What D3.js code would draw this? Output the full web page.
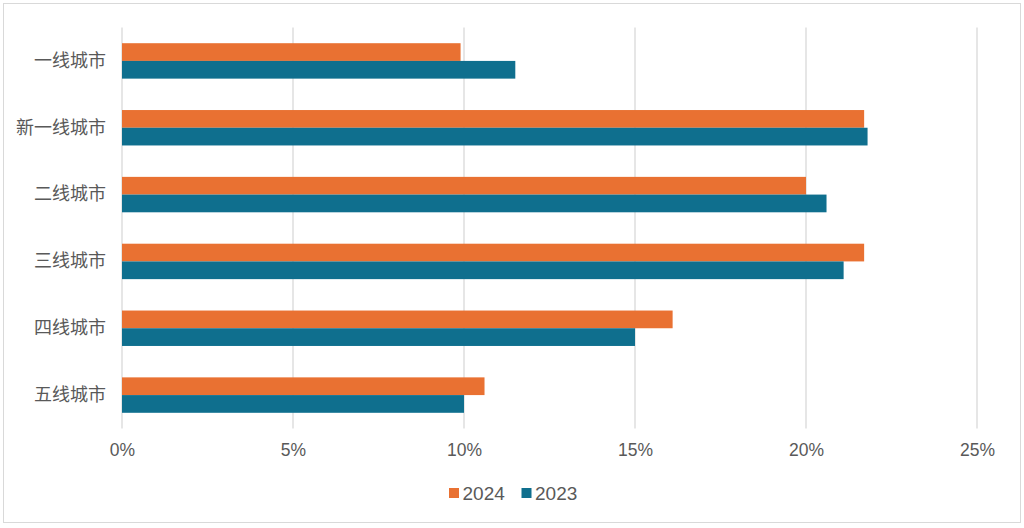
<!DOCTYPE html>
<html>
<head>
<meta charset="utf-8">
<script src="https://cdn.jsdelivr.net/npm/d3@7"></script>
<style>
  html, body { margin: 0; padding: 0; background: #fff; }
  svg { display: block; font-family: "Liberation Sans", Arial, "Noto Sans CJK SC", sans-serif; }
</style>
</head>
<body>
<svg id="chart" width="1024" height="528" viewBox="0 0 1024 528"></svg>
<script>
// data
const cities = ["一线城市", "新一线城市", "二线城市", "三线城市", "四线城市", "五线城市"];
const years = ["2024", "2023"];
const values2024 = [9.9, 21.7, 20.0, 21.7, 16.1, 10.6];
const values2023 = [11.5, 21.8, 20.6, 21.1, 15.0, 10.0];
const xTicks = [0, 5, 10, 15, 20, 25];

const colors = { "2024": "#E97132", "2023": "#0F6F8E" };
const textColor = "#595959";

const svg = d3.select("#chart");

// outer frame
svg.append("rect")
  .attr("x", 3.5).attr("y", 3.5)
  .attr("width", 1017).attr("height", 519)
  .attr("fill", "#fff")
  .attr("stroke", "#d9d9d9")
  .attr("stroke-width", 1);

const plot = { left: 122, right: 977, top: 27.5, bottom: 428.5 };

const x = d3.scaleLinear().domain([0, 25]).range([plot.left, plot.right]);
const y = d3.scaleBand().domain(cities).range([plot.top, plot.bottom]).paddingInner(0.47).paddingOuter(0.235);
const ySub = d3.scaleBand().domain(years).range([0, y.bandwidth()]);

// gridlines
svg.append("g")
  .selectAll("line")
  .data(xTicks)
  .enter()
  .append("line")
  .attr("x1", (d) => x(d)).attr("x2", (d) => x(d))
  .attr("y1", plot.top).attr("y2", plot.bottom)
  .attr("stroke", "#d9d9d9")
  .attr("stroke-width", 1.3);

// bars
const rows = cities.map((c, i) => ({ city: c, "2024": values2024[i], "2023": values2023[i] }));

const groups = svg.append("g")
  .selectAll("g")
  .data(rows)
  .enter()
  .append("g")
  .attr("transform", (d) => `translate(0,${y(d.city)})`);

groups.selectAll("rect")
  .data((d) => years.map((yr) => ({ year: yr, value: d[yr] })))
  .enter()
  .append("rect")
  .attr("x", x(0))
  .attr("y", (d) => ySub(d.year))
  .attr("width", (d) => x(d.value) - x(0))
  .attr("height", ySub.bandwidth())
  .attr("fill", (d) => colors[d.year]);

// x axis labels
const xAxis = d3.axisBottom(x)
  .tickValues(xTicks)
  .tickFormat((d) => d + "%")
  .tickSize(0)
  .tickPadding(15);

const xg = svg.append("g")
  .attr("transform", `translate(0,${plot.bottom})`)
  .call(xAxis);
xg.select(".domain").remove();
xg.selectAll("text")
  .attr("fill", textColor)
  .attr("font-size", "17.5px");

// y axis labels
const yAxis = d3.axisLeft(y).tickSize(0).tickPadding(16);
const yg = svg.append("g")
  .attr("transform", `translate(${plot.left},0)`)
  .call(yAxis);
yg.select(".domain").remove();
yg.selectAll("text")
  .attr("fill", textColor)
  .attr("font-size", "18px")
  .attr("font-family", '"Noto Sans CJK SC", sans-serif');

// legend
const legendItems = [
  { year: "2024", x: 449 },
  { year: "2023", x: 521.5 }
];
const legend = svg.append("g").attr("transform", "translate(0,493)");
legend.selectAll("rect")
  .data(legendItems)
  .enter()
  .append("rect")
  .attr("x", (d) => d.x)
  .attr("y", -5)
  .attr("width", 10)
  .attr("height", 10)
  .attr("fill", (d) => colors[d.year]);
legend.selectAll("text")
  .data(legendItems)
  .enter()
  .append("text")
  .attr("x", (d) => d.x + 13.5)
  .attr("y", 0)
  .attr("dy", "0.35em")
  .attr("fill", textColor)
  .attr("font-size", "19px")
  .text((d) => d.year);
</script>
</body>
</html>
